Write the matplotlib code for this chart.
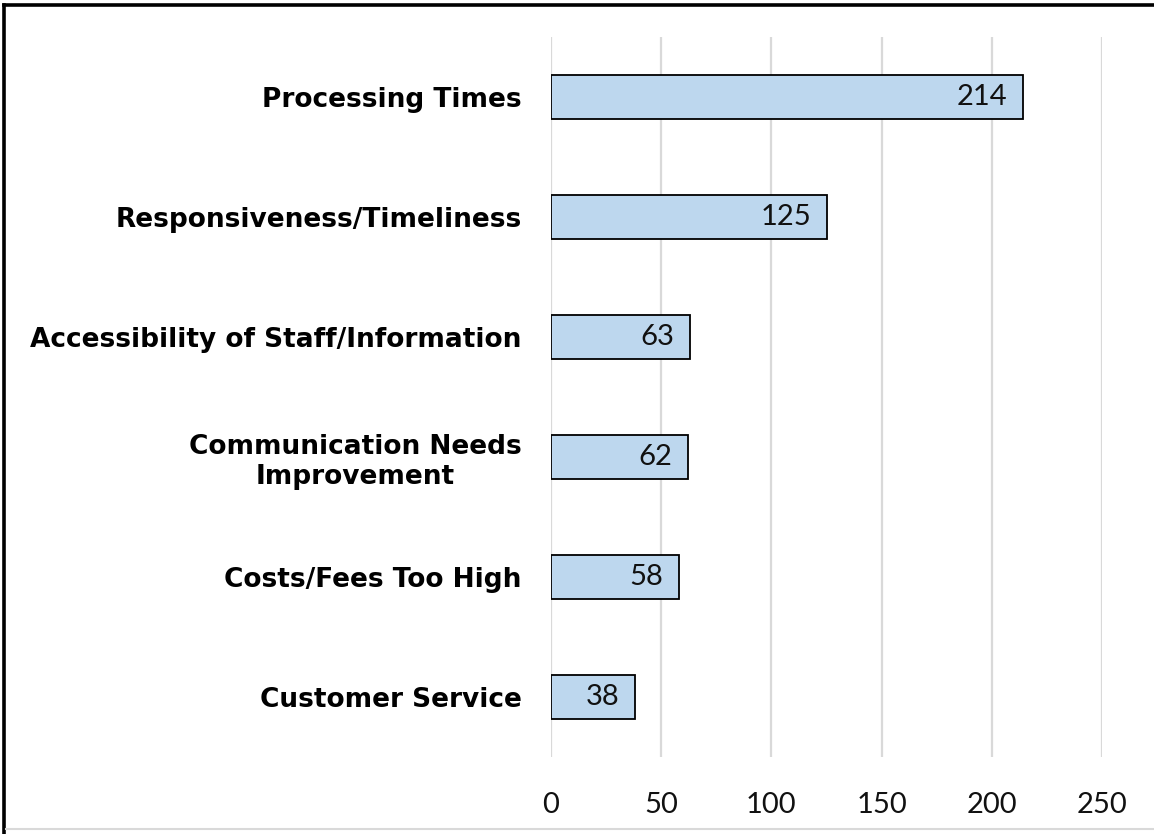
import matplotlib
matplotlib.use("Agg")
import matplotlib.pyplot as plt
from matplotlib.lines import Line2D

# Complaint categories, top to bottom as shown
CATEGORIES = [
    "Processing Times",
    "Responsiveness/Timeliness",
    "Accessibility of Staff/Information",
    "Communication Needs\nImprovement",
    "Costs/Fees Too High",
    "Customer Service",
]
COUNTS = [214, 125, 63, 62, 58, 38]
X_TICKS = [0, 50, 100, 150, 200, 250]

BAR_COLOR = "#bdd7ee"
GRID_COLOR = "#d9d9d9"

plt.rcParams["font.family"] = ["Lato", "DejaVu Sans"]

fig = plt.figure(figsize=(11.54, 8.34), dpi=100)
W, H = 1154, 834
ax = fig.add_axes([551 / W, 1 - 757 / H, (1102 - 551) / W, (757 - 37) / H])

ypos = list(range(len(CATEGORIES)))
bars = ax.barh(ypos, COUNTS, height=0.36, color=BAR_COLOR,
               edgecolor="black", linewidth=1.3, zorder=3)

for bar, v in zip(bars, COUNTS):
    ax.annotate(f"{v}", xy=(bar.get_width(), bar.get_y() + bar.get_height() / 2),
                xytext=(-11, 0), textcoords="offset points",
                ha="right", va="center", fontsize=21,
                color="#111111", zorder=4)

ax.set_xlim(0, 250)
ax.set_ylim(len(CATEGORIES) - 0.5, -0.5)
ax.set_xticks(X_TICKS)
ax.set_xticklabels([str(t) for t in X_TICKS], fontsize=21, color="#111111")
ax.set_yticks(ypos)
ax.set_yticklabels(CATEGORIES, fontsize=19, fontweight="bold",
                   family="DejaVu Sans", linespacing=1.2,
                   multialignment="center")
ax.tick_params(axis="y", length=0, pad=21)
ax.tick_params(axis="x", length=0, pad=25)
ax.xaxis.grid(True, color=GRID_COLOR, linewidth=1.6, zorder=0)
for s in ax.spines.values():
    s.set_visible(False)

# outer frame: heavy black top and left, thin grey bottom
fig.add_artist(Line2D([4 / W, 4 / W], [0, 1 - 5 / H], color="black", linewidth=2.6))
fig.add_artist(Line2D([4 / W, 1], [1 - 5 / H, 1 - 5 / H], color="black", linewidth=2.6))
fig.add_artist(Line2D([6 / W, 1], [1 - 829 / H, 1 - 829 / H], color="#d9d9d9", linewidth=1.5))

fig.savefig("out.png", dpi=100, facecolor="white")
